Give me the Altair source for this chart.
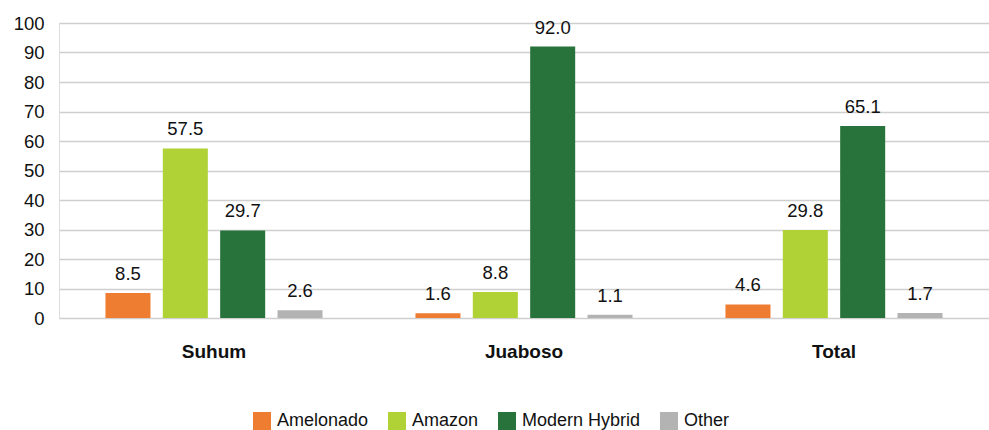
import altair as alt
import pandas as pd

regions = ["Suhum", "Juaboso", "Total"]
varieties = ["Amelonado", "Amazon", "Modern Hybrid", "Other"]
values = {
    "Amelonado": [8.5, 1.6, 4.6],
    "Amazon": [57.5, 8.8, 29.8],
    "Modern Hybrid": [29.7, 92.0, 65.1],
    "Other": [2.6, 1.1, 1.7],
}
colors = ["#EE7D31", "#B0D236", "#27733B", "#B3B3B3"]
yticks = [0, 10, 20, 30, 40, 50, 60, 70, 80, 90, 100]

rows = []
for v in varieties:
    for r, val in zip(regions, values[v]):
        rows.append({"Region": r, "Variety": v, "Value": val})
df = pd.DataFrame(rows)

FONT = "Liberation Sans"
FS = 18.5

x = alt.X("Region:N", sort=regions, title=None,
          scale=alt.Scale(paddingInner=0.26, paddingOuter=0.13),
          axis=alt.Axis(labelAngle=0, labelFont=FONT, labelFontSize=19, labelFontWeight="bold",
                        labelColor="#111111", labelPadding=24, ticks=False, domain=False))
xo = alt.XOffset("Variety:N", sort=varieties,
                 scale=alt.Scale(paddingInner=0.215, paddingOuter=0.1075))
y = alt.Y("Value:Q", title=None,
          scale=alt.Scale(domain=[0, 100], nice=False),
          axis=alt.Axis(values=yticks, labelFont=FONT, labelFontSize=FS,
                        labelColor="#111111", labelPadding=15, ticks=False, domain=False,
                        labelOverlap=False, tickCount=11,
                        gridColor="#CFCFCF", gridWidth=1.5))
color = alt.Color("Variety:N", sort=varieties,
                  scale=alt.Scale(domain=varieties, range=colors),
                  legend=alt.Legend(title=None, orient="none", direction="horizontal",
                                    legendX=194, legendY=389, symbolType="square",
                                    symbolSize=324, symbolStrokeWidth=0,
                                    labelFont=FONT, labelFontSize=18, labelColor="#111111",
                                    columnPadding=19, labelOffset=6))

bars = alt.Chart(df).mark_bar().encode(x=x, xOffset=xo, y=y, color=color)
labels = alt.Chart(df).mark_text(dy=-9, font=FONT, fontSize=FS, color="#111111",
                                 baseline="bottom").encode(
    x=x, xOffset=xo, y=y, text=alt.Text("Value:Q", format=".1f"))

chart = alt.layer(bars, labels).properties(
    width=930, height=295,
    autosize=alt.AutoSizeParams(type="none"),
    padding={"left": 59, "top": 23, "right": 0, "bottom": 112},
).configure_view(stroke=None).configure(background="white")

chart.save("out.html", embed_options={"renderer": "svg", "actions": False})
